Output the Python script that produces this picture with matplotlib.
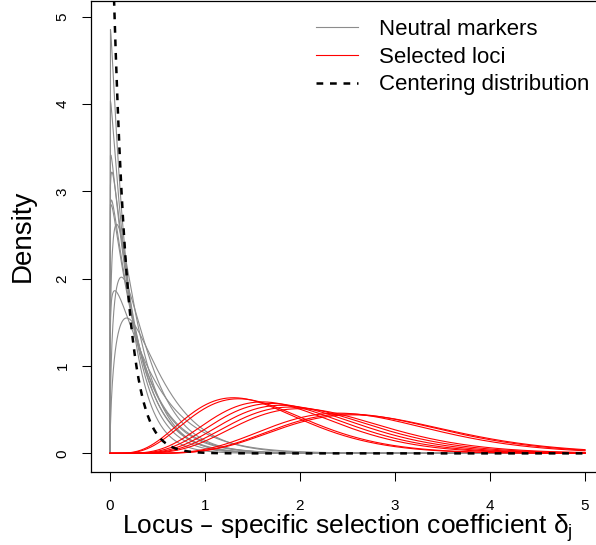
import math
import numpy as np
import matplotlib
matplotlib.use("Agg")
import matplotlib.pyplot as plt

plt.rcParams['font.family'] = ['Liberation Sans', 'DejaVu Sans']

# gamma(shape, rate) parameters
neutral_shape = [1.02, 1.02, 1.08, 1.03, 1.04, 1.05, 1.33, 1.50, 1.13, 1.60]
neutral_rate = [5.30, 4.40, 4.10, 3.85, 3.30, 3.45, 4.70, 4.17, 2.60, 3.43]

selected_shape = [5.47, 5.65, 6.77, 7.08, 7.34, 7.56, 7.73, 8.85, 9.15, 9.10]
selected_rate = [3.44, 3.44, 3.60, 3.58, 3.52, 3.45, 3.37, 3.27, 3.26, 3.18]

centering_rate = 7.0

xticks = [0, 1, 2, 3, 4, 5]
yticks = [0, 1, 2, 3, 4, 5]

x = np.linspace(0, 5, 1001)


def dgamma(x, a, b):
    return b ** a * x ** (a - 1) * np.exp(-b * x) / math.gamma(a)


fig = plt.figure(figsize=(5.96, 5.45), dpi=100)
ax = fig.add_axes([91 / 596, 1 - 471.7 / 545, 513 / 596, 471.2 / 545])

for a, b in zip(neutral_shape, neutral_rate):
    ax.plot(x, dgamma(x, a, b), color='#8c8c8c', lw=0.8)
for a, b in zip(selected_shape, selected_rate):
    ax.plot(x, dgamma(x, a, b), color='#ff0000', lw=0.8)
ax.plot(x, centering_rate * np.exp(-centering_rate * x), color='black',
        lw=1.8, dashes=(2.7, 2.7))

ax.set_xlim(-0.2, 5.2)
ax.set_ylim(-0.21, 5.187)
ax.set_xticks(xticks)
ax.set_yticks(yticks)
ax.tick_params(direction='out', length=6.5, width=0.75, labelsize=11)
ax.tick_params(axis='x', pad=13)
ax.tick_params(axis='y', labelrotation=90, pad=9)
for lab in ax.get_yticklabels():
    lab.set_va('center')
for s in ax.spines.values():
    s.set_linewidth(0.9)

ax.set_xlabel('Locus \u2013 specific selection coefficient $\\mathregular{\u03b4_j}$',
              fontsize=19, labelpad=0)
ax.set_ylabel('Density', fontsize=20, labelpad=14)

handles = [
    plt.Line2D([], [], color='#8c8c8c', lw=0.8),
    plt.Line2D([], [], color='#ff0000', lw=0.8),
    plt.Line2D([], [], color='black', lw=1.8, dashes=(2.7, 2.7)),
]
fig.legend(handles, ['Neutral markers', 'Selected loci', 'Centering distribution'],
           loc='upper left', bbox_to_anchor=(316 / 596, 1 - 19 / 545),
           frameon=False, fontsize=16, handlelength=1.9, handletextpad=0.95,
           borderpad=0, borderaxespad=0, labelspacing=0.3)

fig.savefig('out.png', dpi=100)
